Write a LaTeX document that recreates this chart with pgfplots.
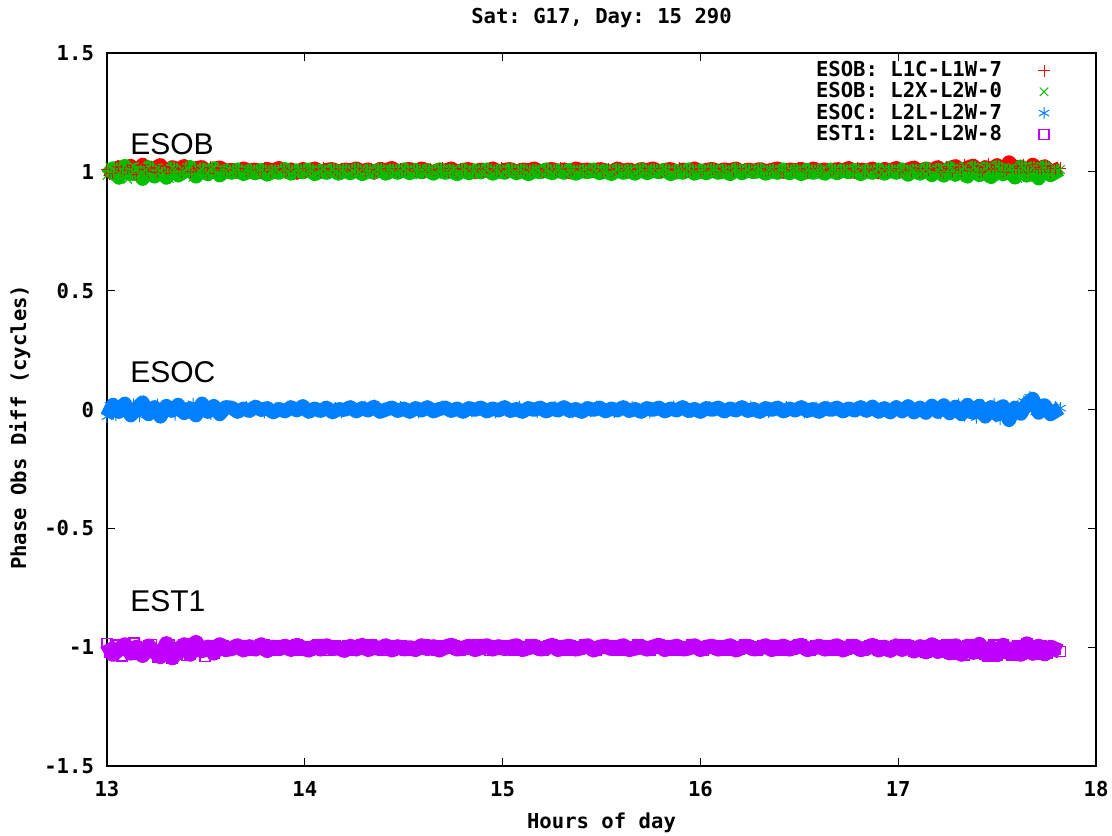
\documentclass[border=0pt]{standalone}
\usepackage{pgfplots}
\usepackage{pgfplotstable}
\pgfplotsset{compat=1.18}
\usepackage{fontspec}
\setmonofont{DejaVu Sans Mono}
\newfontfamily\arial{Liberation Sans}
\newcommand{\gp}{\ttfamily\bfseries\fontsize{10.3}{11}\selectfont}
\definecolor{gpred}{rgb}{1,0,0}
\definecolor{gpgreen}{rgb}{0,0.75,0}
\definecolor{gpblue}{rgb}{0,0.5,1}
\definecolor{gppurple}{rgb}{0.75,0,1}
\pgfplotstableread{
x r g b m
13.00 1.010 0.985 -0.030 -0.985
13.03 0.995 1.015 0.020 -1.030
13.06 1.020 0.975 -0.010 -1.010
13.09 1.005 1.025 0.025 -0.990
13.12 1.025 0.990 -0.025 -1.025
13.15 0.990 1.010 0.005 -1.000
13.18 1.030 0.970 0.030 -1.035
13.21 1.000 1.020 -0.020 -0.995
13.24 1.015 0.980 0.010 -1.020
13.27 1.028 1.005 -0.030 -1.040
13.30 0.995 0.975 0.015 -0.985
13.33 1.020 1.015 -0.005 -1.045
13.36 1.010 0.985 0.020 -1.010
13.39 1.025 1.000 -0.015 -0.990
13.42 1.000 1.020 0.005 -1.030
13.45 1.015 0.980 -0.025 -0.980
13.48 1.020 1.010 0.025 -1.015
13.51 0.995 0.990 -0.010 -1.000
13.54 1.012 1.015 0.015 -1.025
13.57 1.018 0.985 -0.020 -0.990
13.60 1.005 1.005 0.010 -1.010
13.63 1.008 0.996 0.008 -1.006
13.66 1.000 1.010 -0.010 -0.994
13.69 1.014 0.990 0.004 -1.012
13.72 1.004 1.004 -0.006 -0.998
13.75 1.010 0.994 0.012 -1.008
13.78 0.998 1.008 -0.002 -0.990
13.81 1.012 0.988 0.006 -1.014
13.84 1.006 1.002 -0.012 -1.000
13.87 1.016 0.996 0.002 -1.006
13.90 1.002 1.012 -0.008 -0.996
13.93 1.010 0.992 0.010 -1.010
13.96 0.996 1.006 -0.004 -0.992
13.99 1.012 0.998 0.014 -1.004
14.02 1.004 1.010 -0.010 -1.012
14.05 1.014 0.990 0.004 -0.998
14.08 1.000 1.004 -0.006 -1.008
14.11 1.008 0.996 0.008 -0.994
14.14 1.012 1.008 -0.012 -1.006
14.17 0.998 0.992 0.002 -1.002
14.20 1.010 1.006 -0.002 -1.014
14.23 1.006 0.994 0.010 -0.996
14.26 1.014 1.010 -0.008 -1.008
14.29 1.002 0.990 0.006 -0.992
14.32 1.010 1.004 -0.004 -1.010
14.35 0.996 0.998 0.012 -1.000
14.38 1.012 1.008 -0.010 -1.006
14.41 1.006 0.992 0.000 -0.994
14.44 1.016 1.006 0.008 -1.012
14.47 1.000 0.996 -0.006 -0.998
14.50 1.008 1.010 0.004 -1.008
14.53 1.012 0.994 -0.010 -1.002
14.56 1.002 1.008 0.006 -1.010
14.59 1.014 0.998 -0.004 -0.994
14.62 1.006 1.006 0.010 -1.006
14.65 0.998 0.992 -0.008 -0.998
14.68 1.010 1.010 0.002 -1.012
14.71 1.004 0.996 0.008 -1.000
14.74 1.014 1.004 -0.006 -0.992
14.77 1.000 0.990 0.004 -1.008
14.80 1.008 1.008 -0.010 -1.004
14.83 1.012 0.994 0.006 -0.996
14.86 0.998 1.006 -0.002 -1.010
14.89 1.010 0.998 0.008 -1.002
14.92 1.004 1.010 -0.008 -0.994
14.95 1.014 0.992 0.004 -1.008
14.98 1.002 1.004 -0.004 -0.998
15.01 1.008 0.996 0.010 -1.006
15.04 1.012 1.008 -0.006 -1.000
15.07 0.998 0.994 0.002 -0.994
15.10 1.010 1.006 -0.010 -1.010
15.13 1.006 0.990 0.006 -1.002
15.16 1.014 1.004 -0.002 -0.996
15.19 1.000 0.998 0.008 -1.008
15.22 1.008 1.010 -0.008 -1.004
15.25 1.012 0.994 0.004 -0.992
15.28 1.002 1.006 -0.004 -1.010
15.31 1.010 0.996 0.010 -1.000
15.34 0.998 1.008 -0.006 -0.996
15.37 1.014 0.992 0.002 -1.008
15.40 1.006 1.004 -0.010 -1.002
15.43 1.010 0.998 0.006 -0.994
15.46 1.002 1.010 -0.002 -1.012
15.49 1.012 0.994 0.008 -1.000
15.52 1.006 1.006 -0.008 -0.996
15.55 0.998 0.990 0.004 -1.006
15.58 1.014 1.008 -0.004 -1.002
15.61 1.004 0.996 0.010 -0.994
15.64 1.010 1.004 -0.006 -1.010
15.67 1.000 0.992 0.002 -1.004
15.70 1.012 1.010 -0.010 -0.998
15.73 1.006 0.994 0.006 -1.008
15.76 1.014 1.006 -0.002 -1.000
15.79 1.002 0.998 0.008 -0.992
15.82 1.008 1.008 -0.008 -1.010
15.85 1.012 0.990 0.004 -1.002
15.88 0.998 1.004 -0.004 -0.996
15.91 1.010 0.996 0.010 -1.008
15.94 1.004 1.010 -0.006 -1.004
15.97 1.014 0.992 0.002 -0.994
16.00 1.000 1.006 -0.010 -1.010
16.03 1.008 0.994 0.006 -1.000
16.06 1.012 1.008 -0.002 -0.996
16.09 1.002 0.996 0.008 -1.008
16.12 1.010 1.004 -0.008 -1.002
16.15 1.006 0.990 0.004 -0.994
16.18 1.014 1.010 -0.004 -1.012
16.21 0.998 0.994 0.010 -1.000
16.24 1.010 1.006 -0.006 -0.996
16.27 1.004 0.998 0.002 -1.008
16.30 1.012 1.008 -0.010 -1.004
16.33 1.002 0.992 0.006 -0.994
16.36 1.008 1.004 -0.002 -1.010
16.39 1.014 0.996 0.008 -1.002
16.42 1.000 1.010 -0.008 -0.996
16.45 1.010 0.994 0.004 -1.008
16.48 1.006 1.006 -0.004 -1.000
16.51 1.012 0.990 0.010 -0.992
16.54 0.998 1.008 -0.006 -1.010
16.57 1.014 0.996 0.002 -1.004
16.60 1.004 1.004 -0.010 -0.996
16.63 1.010 0.992 0.006 -1.008
16.66 1.002 1.010 -0.002 -1.002
16.69 1.012 0.994 0.008 -0.994
16.72 1.006 1.006 -0.008 -1.012
16.75 1.016 0.998 0.004 -1.000
16.78 1.000 1.008 -0.004 -0.996
16.81 1.010 0.990 0.010 -1.010
16.84 1.004 1.004 -0.006 -1.004
16.87 1.014 0.996 0.012 -0.992
16.90 0.998 1.010 -0.010 -1.012
16.93 1.012 0.992 0.006 -1.000
16.96 1.006 1.006 -0.012 -1.014
16.99 1.016 0.996 0.010 -0.994
17.02 1.002 1.010 -0.008 -1.010
17.05 1.010 0.988 0.014 -0.996
17.08 1.018 1.006 -0.012 -1.016
17.11 1.000 0.992 0.008 -0.998
17.14 1.014 1.012 -0.014 -1.020
17.17 1.006 0.986 0.016 -0.990
17.20 1.020 1.008 -0.010 -1.018
17.23 0.996 0.984 0.018 -1.000
17.26 1.016 1.016 -0.016 -1.024
17.29 1.024 0.988 0.012 -0.994
17.32 1.004 1.010 -0.020 -1.030
17.35 1.018 0.980 0.020 -0.996
17.38 1.026 1.018 -0.014 -1.022
17.41 0.998 0.986 0.016 -0.988
17.44 1.020 1.014 -0.030 -1.028
17.47 1.010 0.978 0.010 -1.002
17.50 1.028 1.020 -0.022 -1.032
17.53 1.002 0.990 0.014 -0.992
17.56 1.040 1.012 -0.045 -1.024
17.59 1.016 0.976 0.008 -1.004
17.62 1.022 1.022 -0.018 -1.030
17.65 0.996 0.984 0.024 -0.986
17.68 1.030 1.016 0.045 -1.026
17.71 1.010 0.972 -0.014 -0.996
17.74 1.024 1.020 0.018 -1.028
17.77 0.998 0.986 -0.020 -1.000
17.82 1.016 1.010 0.006 -1.018
}\datatab
\pgfplotstableread{
x r g b m
13.015 0.992 1.020 0.018 -1.020
13.045 1.022 0.980 -0.024 -0.992
13.075 1.004 1.010 0.008 -1.038
13.105 1.018 0.968 -0.012 -1.005
13.135 0.996 1.022 0.022 -0.982
13.165 1.026 0.988 -0.028 -1.030
13.195 1.008 1.006 0.012 -1.015
13.225 1.020 0.975 -0.006 -0.988
13.255 0.998 1.018 0.020 -1.042
13.285 1.024 0.990 -0.018 -1.008
13.315 1.006 0.972 0.006 -0.992
13.345 1.016 1.012 -0.022 -1.028
13.375 0.994 0.988 0.016 -1.002
13.405 1.022 1.018 -0.008 -1.035
13.435 1.008 0.978 0.024 -0.986
13.465 1.018 1.004 -0.014 -1.018
13.495 1.002 0.986 0.004 -1.040
13.525 1.020 1.012 -0.018 -0.994
13.555 1.006 0.990 0.012 -1.012
13.585 1.014 1.008 -0.006 -0.996
13.615 1.002 0.992 0.006 -1.010
13.645 1.006 1.004 0.004 -1.004
13.675 1.012 0.990 -0.008 -0.994
13.705 0.998 1.008 0.010 -1.012
13.735 1.010 0.996 -0.002 -0.998
13.765 1.004 1.010 0.006 -1.008
13.795 1.016 0.994 -0.012 -0.990
13.825 1.000 1.002 0.000 -1.006
13.855 1.008 1.006 0.008 -1.014
13.885 1.014 0.988 -0.006 -0.996
13.915 1.002 1.000 0.012 -1.004
13.945 1.006 0.998 -0.004 -0.994
13.975 1.012 1.004 0.002 -1.012
14.005 0.998 0.990 -0.010 -0.998
14.035 1.010 1.008 0.004 -1.008
14.065 1.004 0.996 -0.008 -0.990
14.095 1.016 1.010 0.010 -1.006
14.125 1.000 0.994 -0.002 -1.014
14.155 1.008 1.002 0.006 -0.996
14.185 1.014 1.006 -0.012 -1.004
14.215 1.002 0.988 0.000 -0.994
14.245 1.006 1.000 0.008 -1.012
14.275 1.012 0.998 -0.006 -0.998
14.305 0.998 1.004 0.012 -1.008
14.335 1.010 0.990 -0.004 -0.990
14.365 1.004 1.008 0.002 -1.006
14.395 1.016 0.996 -0.010 -1.014
14.425 1.000 1.010 0.004 -0.996
14.455 1.008 0.994 -0.008 -1.004
14.485 1.014 1.002 0.010 -0.994
14.515 1.002 1.006 -0.002 -1.012
14.545 1.006 0.988 0.006 -0.998
14.575 1.012 1.000 -0.012 -1.008
14.605 0.998 0.998 0.000 -0.990
14.635 1.010 1.004 0.008 -1.006
14.665 1.004 0.990 -0.006 -1.014
14.695 1.016 1.008 0.012 -0.996
14.725 1.000 0.996 -0.004 -1.004
14.755 1.008 1.010 0.002 -0.994
14.785 1.014 0.994 -0.010 -1.012
14.815 1.002 1.002 0.004 -0.998
14.845 1.006 1.006 -0.008 -1.008
14.875 1.012 0.988 0.010 -0.990
14.905 0.998 1.000 -0.002 -1.006
14.935 1.010 0.998 0.006 -1.014
14.965 1.004 1.004 -0.012 -0.996
14.995 1.016 0.990 0.000 -1.004
15.025 1.000 1.008 0.008 -0.994
15.055 1.008 0.996 -0.006 -1.012
15.085 1.014 1.010 0.012 -0.998
15.115 1.002 0.994 -0.004 -1.008
15.145 1.006 1.002 0.002 -0.990
15.175 1.012 1.006 -0.010 -1.006
15.205 0.998 0.988 0.004 -1.014
15.235 1.010 1.000 -0.008 -0.996
15.265 1.004 0.998 0.010 -1.004
15.295 1.016 1.004 -0.002 -0.994
15.325 1.000 0.990 0.006 -1.012
15.355 1.008 1.008 -0.012 -0.998
15.385 1.014 0.996 0.000 -1.008
15.415 1.002 1.010 0.008 -0.990
15.445 1.006 0.994 -0.006 -1.006
15.475 1.012 1.002 0.012 -1.014
15.505 0.998 1.006 -0.004 -0.996
15.535 1.010 0.988 0.002 -1.004
15.565 1.004 1.000 -0.010 -0.994
15.595 1.016 0.998 0.004 -1.012
15.625 1.000 1.004 -0.008 -0.998
15.655 1.008 0.990 0.010 -1.008
15.685 1.014 1.008 -0.002 -0.990
15.715 1.002 0.996 0.006 -1.006
15.745 1.006 1.010 -0.012 -1.014
15.775 1.012 0.994 0.000 -0.996
15.805 0.998 1.002 0.008 -1.004
15.835 1.010 1.006 -0.006 -0.994
15.865 1.004 0.988 0.012 -1.012
15.895 1.016 1.000 -0.004 -0.998
15.925 1.000 0.998 0.002 -1.008
15.955 1.008 1.004 -0.010 -0.990
15.985 1.014 0.990 0.004 -1.006
16.015 1.002 1.008 -0.008 -1.014
16.045 1.006 0.996 0.010 -0.996
16.075 1.012 1.010 -0.002 -1.004
16.105 0.998 0.994 0.006 -0.994
16.135 1.010 1.002 -0.012 -1.012
16.165 1.004 1.006 0.000 -0.998
16.195 1.016 0.988 0.008 -1.008
16.225 1.000 1.000 -0.006 -0.990
16.255 1.008 0.998 0.012 -1.006
16.285 1.014 1.004 -0.004 -1.014
16.315 1.002 0.990 0.002 -0.996
16.345 1.006 1.008 -0.010 -1.004
16.375 1.012 0.996 0.004 -0.994
16.405 0.998 1.010 -0.008 -1.012
16.435 1.010 0.994 0.010 -0.998
16.465 1.004 1.002 -0.002 -1.008
16.495 1.016 1.006 0.006 -0.990
16.525 1.000 0.988 -0.012 -1.006
16.555 1.008 1.000 0.000 -1.014
16.585 1.014 0.998 0.008 -0.996
16.615 1.002 1.004 -0.006 -1.004
16.645 1.006 0.990 0.012 -0.994
16.675 1.012 1.008 -0.004 -1.012
16.705 0.998 0.996 0.002 -0.998
16.735 1.010 1.010 -0.010 -1.008
16.765 1.004 0.994 0.004 -0.990
16.795 1.016 1.002 -0.008 -1.006
16.825 1.000 1.006 0.010 -1.014
16.855 1.008 0.988 -0.002 -0.996
16.885 1.014 1.000 0.006 -1.004
16.915 1.002 0.998 -0.012 -0.994
16.945 1.006 1.004 0.000 -1.012
16.975 1.012 0.990 0.008 -0.998
17.005 0.998 1.008 -0.006 -1.008
17.035 1.010 0.996 0.012 -0.990
17.065 1.004 1.010 -0.004 -1.006
17.095 1.016 0.994 0.002 -1.014
17.125 1.000 1.002 -0.010 -0.996
17.155 1.008 1.006 0.004 -1.004
17.185 1.014 0.988 -0.008 -0.994
17.215 1.004 1.018 -0.016 -1.022
17.245 1.022 0.982 0.014 -0.992
17.275 0.998 1.014 -0.010 -1.028
17.305 1.018 0.976 0.022 -1.004
17.335 1.030 1.022 -0.026 -1.034
17.365 1.006 0.984 0.010 -0.988
17.395 1.024 1.012 -0.034 -1.026
17.425 1.000 0.974 0.018 -1.002
17.455 1.032 1.024 -0.012 -1.036
17.485 1.012 0.980 0.024 -0.990
17.515 1.026 1.016 -0.040 -1.022
17.545 0.996 0.978 0.006 -1.010
17.575 1.036 1.020 -0.028 -1.034
17.605 1.014 0.972 0.016 -0.994
17.635 1.028 1.018 0.034 -1.026
17.665 1.002 0.986 0.052 -1.006
17.695 1.020 0.976 -0.010 -1.030
17.725 1.008 1.022 0.020 -0.994
17.755 1.026 0.980 -0.016 -1.024
17.795 1.012 1.014 0.010 -1.008
}\datatabb
\begin{document}
\begin{tikzpicture}
\begin{axis}[
  scale only axis,
  width=494.5pt, height=356.5pt,
  xmin=13, xmax=18, ymin=-1.5, ymax=1.5,
  xtick={13,14,15,16,17,18},
  xticklabels={13,14,15,16,17,18},
  ytick={-1.5,-1,-0.5,0,0.5,1,1.5},
  yticklabels={-1.5,-1,-0.5,0,0.5,1,1.5},
  tick align=inside,
  major tick length=4pt,
  tick style={black, line width=0.6pt},
  axis line style={line width=0.75pt},
  ticklabel style={font=\gp},
  yticklabel style={xshift=-3pt},
  xticklabel style={yshift=-4pt},
  xlabel={Hours of day},
  ylabel={Phase Obs Diff (cycles)},
  xlabel style={font=\gp, at={(axis description cs:0.5,-0.08)}, anchor=center},
  ylabel style={font=\gp, at={(axis description cs:-0.088,0.475)}, anchor=center},
  title={Sat: G17, Day: 15 290},
  title style={font=\gp, at={(axis description cs:0.5,1.032)}, anchor=center},
  legend entries={ESOB: L1C-L1W-7, ESOB: L2X-L2W-0, ESOC: L2L-L2W-7, EST1: L2L-L2W-8},
  legend plot pos=right,
  legend cell align=right,
  legend style={at={(rel axis cs:0.96,1.0)}, anchor=north east, draw=none, fill=none, font=\gp, row sep=-2.5pt,
    /tikz/every odd column/.append style={column sep=16pt}},
  clip=false,
]
% dense point clouds: thick strokes through the same samples
\addplot[forget plot, no marks, draw=gpred, line width=7pt, line join=round] table[x=x, y=r] {\datatab};
\addplot[only marks, draw=gpred, mark=+, mark size=3pt, line width=0.5pt] table[x=x, y=r] {\datatab};
\addplot[forget plot, only marks, draw=gpred, mark=+, mark size=3pt, line width=0.5pt] table[x=x, y=r] {\datatabb};
\addplot[forget plot, no marks, draw=gpgreen, line width=7pt, line join=round] table[x=x, y=g] {\datatab};
\addplot[only marks, draw=gpgreen, mark=x, mark size=3pt, line width=0.5pt] table[x=x, y=g] {\datatab};
\addplot[forget plot, only marks, draw=gpgreen, mark=x, mark size=3pt, line width=0.5pt] table[x=x, y=g] {\datatabb};
\addplot[forget plot, no marks, draw=gpblue, line width=7pt, line join=round] table[x=x, y=b] {\datatab};
\addplot[only marks, draw=gpblue, mark=asterisk, mark size=3pt, line width=0.5pt] table[x=x, y=b] {\datatab};
\addplot[forget plot, only marks, draw=gpblue, mark=asterisk, mark size=3pt, line width=0.5pt] table[x=x, y=b] {\datatabb};
\addplot[forget plot, no marks, draw=gppurple, line width=7.5pt, line join=round] table[x=x, y=m] {\datatab};
\addplot[only marks, draw=gppurple, mark=square, mark size=2.5pt, line width=0.8pt,
  legend image code/.code={\draw[draw=gppurple, line width=0.8pt] (0.3cm-2.5pt,-2.5pt) rectangle (0.3cm+2.5pt,2.5pt);}] table[x=x, y=m] {\datatab};
\addplot[forget plot, only marks, draw=gppurple, mark=square, mark size=2.5pt, line width=0.8pt] table[x=x, y=m] {\datatabb};
\node[anchor=base west, font=\arial\fontsize{15}{15}\selectfont, inner sep=0pt] at (axis cs:13.116,1.071) {ESOB};
\node[anchor=base west, font=\arial\fontsize{15}{15}\selectfont, inner sep=0pt] at (axis cs:13.116,0.112) {ESOC};
\node[anchor=base west, font=\arial\fontsize{15}{15}\selectfont, inner sep=0pt] at (axis cs:13.116,-0.852) {EST1};
\coordinate (SW) at (rel axis cs:0,0);
\coordinate (NE) at (rel axis cs:1,1);
\end{axis}
\pgfresetboundingbox
\path[use as bounding box] ([shift={(-53.5pt,-34.5pt)}]SW) rectangle ([shift={(8pt,26.5pt)}]NE);
\end{tikzpicture}
\end{document}
